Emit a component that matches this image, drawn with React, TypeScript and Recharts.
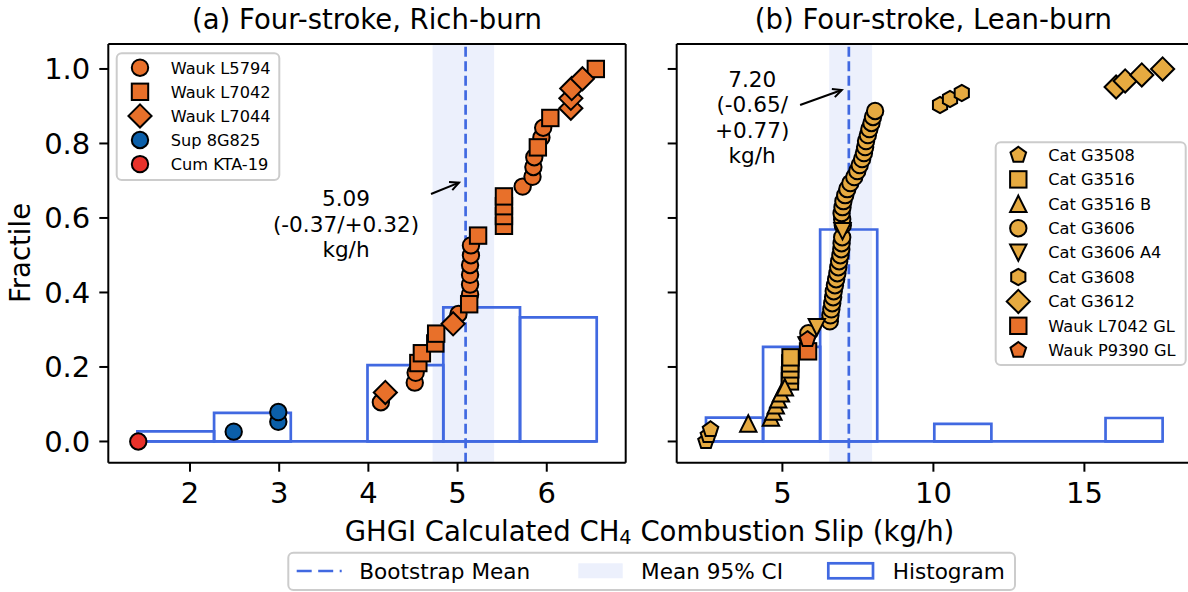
import React from "react";
import { ComposedChart, Scatter, XAxis, YAxis, ReferenceArea, ReferenceLine, ReferenceDot } from "recharts";

// ---- (a) Four-stroke, rich-burn: [slip kg/h, rank] ; 39 engines ----
const richCount = 39;
const waukL5794 = [[4.14, 4], [4.52, 6], [4.53, 7], [5.01, 13], [5.14, 15], [5.14, 16], [5.14, 17], [5.14, 18], [5.15, 19], [5.15, 20], [5.73, 26], [5.84, 27], [5.85, 28], [5.86, 29], [5.94, 31], [5.96, 32]];
const waukL7042 = [[4.56, 8], [4.6, 9], [4.75, 10], [4.76, 11], [5.13, 14], [5.23, 21], [5.52, 22], [5.52, 23], [5.52, 24], [5.52, 25], [5.9, 30], [6.04, 33], [6.55, 38]];
const waukL7044 = [[4.19, 5], [4.95, 12], [6.27, 34], [6.27, 35], [6.28, 36], [6.4, 37]];
const sup8G825 = [[2.49, 1], [2.99, 2], [2.99, 3]];
const cumKTA19 = [[1.42, 0]];

const richBinEdges = [1.41, 2.27, 3.13, 3.99, 4.84, 5.7, 6.56];
const richBinHeights = [0.027, 0.077, 0, 0.205, 0.36, 0.333];
const richMean = 5.09;
const richCi = [4.72, 5.41];

// ---- (b) Four-stroke, lean-burn: [slip kg/h, rank] ; 63 engines ----
const leanCount = 63;
const catG3508 = [[2.47, 0], [2.55, 1], [2.62, 2]];
const catG3516 = [[5.25, 10], [5.25, 11], [5.26, 12], [5.26, 13], [5.27, 14]];
const catG3516B = [[3.87, 3], [4.62, 4], [4.7, 5], [4.78, 6], [4.86, 7], [4.95, 8], [5.08, 9]];
const catG3606 = [
  [5.86, 18], [6.57, 20], [6.59, 21], [6.62, 22], [6.65, 23], [6.68, 24], [6.7, 25], [6.74, 26], [6.78, 27],
  [6.82, 28], [6.85, 29], [6.88, 30], [6.92, 31], [6.95, 32], [6.96, 33], [6.98, 34], [7.0, 36], [6.98, 37],
  [6.96, 38], [6.99, 39], [7.02, 40], [7.08, 41], [7.15, 42], [7.25, 43], [7.38, 44], [7.48, 45], [7.56, 46],
  [7.64, 47], [7.7, 48], [7.74, 49], [7.77, 50], [7.83, 51], [7.88, 52], [7.95, 53], [8.0, 54], [8.07, 55],
];
const catG3606A4 = [[5.8, 16], [6.14, 19], [6.99, 35]];
const catG3608 = [[10.22, 56], [10.55, 57], [10.94, 58]];
const catG3612 = [[16.05, 59], [16.35, 60], [16.9, 61], [17.59, 62]];
const waukL7042GL = [[5.85, 15]];
const waukP9390GL = [[5.83, 17]];

const leanBinEdges = [2.47, 4.36, 6.25, 8.14, 10.03, 11.92, 13.81, 15.7, 17.59];
const leanBinHeights = [0.064, 0.254, 0.569, 0, 0.047, 0, 0, 0.063];
const leanMean = 7.2;
const leanCi = [6.55, 7.97];

const ORANGE = "#E8702A";
const GOLD = "#E6AA40";
const BLUE = "#0B5FA9";
const RED = "#E8322B";
const ROYAL = "#4169E1";
const FONT = "DejaVu Sans";
const MS = 8.2; // half marker size

const toPoints = (arr: number[][], n: number) => arr.map(([x, r]) => ({ x, y: r / (n - 1) }));

const poly = (cx: number, cy: number, r: number, n: number) => {
  const pts: string[] = [];
  for (let i = 0; i < n; i++) {
    const a = -Math.PI / 2 + (i * 2 * Math.PI) / n;
    pts.push(`${cx + r * Math.cos(a)},${cy + r * Math.sin(a)}`);
  }
  return pts.join(" ");
};

const Glyph = ({ cx, cy, kind, fill }: any) => {
  const st = { fill, stroke: "#000", strokeWidth: 2 };
  const s = MS;
  switch (kind) {
    case "square":
      return <rect x={cx - s} y={cy - s} width={2 * s} height={2 * s} {...st} />;
    case "diamond": {
      const d = s * 1.41;
      return <polygon points={`${cx},${cy - d} ${cx + d},${cy} ${cx},${cy + d} ${cx - d},${cy}`} {...st} />;
    }
    case "triangle":
      return <polygon points={`${cx},${cy - s} ${cx + s},${cy + s} ${cx - s},${cy + s}`} {...st} />;
    case "triangleDown":
      return <polygon points={`${cx},${cy + s} ${cx + s},${cy - s} ${cx - s},${cy - s}`} {...st} />;
    case "pentagon":
      return <polygon points={poly(cx, cy, s, 5)} {...st} />;
    case "hexagon":
      return <polygon points={poly(cx, cy, s, 6)} {...st} />;
    default:
      return <circle cx={cx} cy={cy} r={s} {...st} />;
  }
};

const richSeries = [
  { name: "Wauk L5794", data: waukL5794, kind: "circle", fill: ORANGE },
  { name: "Wauk L7042", data: waukL7042, kind: "square", fill: ORANGE },
  { name: "Wauk L7044", data: waukL7044, kind: "diamond", fill: ORANGE },
  { name: "Sup 8G825", data: sup8G825, kind: "circle", fill: BLUE },
  { name: "Cum KTA-19", data: cumKTA19, kind: "circle", fill: RED },
];

const leanSeries = [
  { name: "Cat G3508", data: catG3508, kind: "pentagon", fill: GOLD },
  { name: "Cat G3516", data: catG3516, kind: "square", fill: GOLD },
  { name: "Cat G3516 B", data: catG3516B, kind: "triangle", fill: GOLD },
  { name: "Cat G3606", data: catG3606, kind: "circle", fill: GOLD },
  { name: "Cat G3606 A4", data: catG3606A4, kind: "triangleDown", fill: GOLD },
  { name: "Cat G3608", data: catG3608, kind: "hexagon", fill: GOLD },
  { name: "Cat G3612", data: catG3612, kind: "diamond", fill: GOLD },
  { name: "Wauk L7042 GL", data: waukL7042GL, kind: "square", fill: ORANGE },
  { name: "Wauk P9390 GL", data: waukP9390GL, kind: "pentagon", fill: ORANGE },
];

const Arrow = (p: any) => {
  const { x1, y1, x2, y2 } = p;
  const a = Math.atan2(y2 - y1, x2 - x1);
  const L = 10, W = 0.45;
  const h1 = `${x2 - L * Math.cos(a - W)},${y2 - L * Math.sin(a - W)}`;
  const h2 = `${x2 - L * Math.cos(a + W)},${y2 - L * Math.sin(a + W)}`;
  return (
    <g stroke="#000" strokeWidth={2} fill="none">
      <line x1={x1} y1={y1} x2={x2} y2={y2} />
      <polyline points={`${h1} ${x2},${y2} ${h2}`} />
    </g>
  );
};

const noteShape = (lines: string[]) => (p: any) => (
  <g>
    {lines.map((t, i) => (
      <text key={i} x={p.cx} y={p.cy + i * 25.5} textAnchor="middle" fontSize={21.6} fontFamily={FONT} fill="#000">
        {t}
      </text>
    ))}
  </g>
);

const yDomain: [number, number] = [-0.057, 1.067];
const yTicks = [0, 0.2, 0.4, 0.6, 0.8, 1.0];
const axisLine = { stroke: "#000", strokeWidth: 2 };
const tickStyle = { fill: "#000", fontSize: 29, fontFamily: FONT };

const histogram = (edges: number[], heights: number[], key: string) => [
  <ReferenceLine key={key + "base"} segment={[{ x: edges[0], y: 0 }, { x: edges[edges.length - 1], y: 0 }]} stroke={ROYAL} strokeWidth={2.7} />,
  ...heights.map((h, i) =>
    h > 0 ? (
      <ReferenceArea key={key + i} x1={edges[i]} x2={edges[i + 1]} y1={0} y2={h} fill="none" fillOpacity={0} stroke={ROYAL} strokeWidth={2.7} strokeOpacity={1} />
    ) : null
  ),
];

const Panel = ({ width, margin, yWidth, xDomain, xTicks, series, n, edges, heights, mean, ci, note, noteAt, arrow, yLabels }: any) => (
  <ComposedChart width={width} height={530} margin={margin}>
    <XAxis type="number" dataKey="x" domain={xDomain} ticks={xTicks} allowDataOverflow height={30}
      axisLine={axisLine} tickLine={axisLine} tickSize={9} tickMargin={11} tick={tickStyle} />
    <YAxis type="number" dataKey="y" domain={yDomain} ticks={yTicks} allowDataOverflow width={yWidth}
      axisLine={axisLine} tickLine={axisLine} tickSize={9} tickMargin={9} tick={tickStyle}
      tickFormatter={(v: number) => (yLabels ? v.toFixed(1) : "")} />
    <ReferenceArea x1={ci[0]} x2={ci[1]} y1={yDomain[0]} y2={yDomain[1]} fill={ROYAL} fillOpacity={0.1} stroke="none" />
    {histogram(edges, heights, "h")}
    {series.map((s: any) => (
      <Scatter key={s.name} name={s.name} data={toPoints(s.data, n)} isAnimationActive={false}
        shape={(p: any) => <Glyph cx={p.cx} cy={p.cy} kind={s.kind} fill={s.fill} />} />
    ))}
    <ReferenceLine x={mean} stroke={ROYAL} strokeWidth={2.7} strokeDasharray="10 4.5" />
    <ReferenceLine segment={arrow} shape={Arrow} />
    <ReferenceDot x={noteAt[0]} y={noteAt[1]} r={0} shape={noteShape(note)} />
    <ReferenceLine y={yDomain[1]} stroke="#000" strokeWidth={2} />
    <ReferenceLine x={xDomain[1]} stroke="#000" strokeWidth={2} />
  </ComposedChart>
);

const LegendRows = ({ items, x0, y0, w, h, mx, tx, ry, gap }: any) => (
  <g>
    <rect x={x0} y={y0} width={w} height={h} rx={5} fill="#fff" fillOpacity={0.8} stroke="#CCCCCC" strokeWidth={2} />
    {items.map((s: any, i: number) => (
      <g key={s.name}>
        <Glyph cx={mx} cy={ry + i * gap} kind={s.kind} fill={s.fill} />
        <text x={tx} y={ry + i * gap + 5.8} fontSize={16.2} fontFamily={FONT} fill="#000">{s.name}</text>
      </g>
    ))}
  </g>
);

export default function App() {
  return (
    <div style={{ position: "absolute", left: 0, top: 0, width: 1188, height: 592, overflow: "hidden", background: "#fff" }}>
      <div style={{ position: "absolute", left: 0, top: 0 }}>
        <Panel width={640} margin={{ top: 44, right: 14.3, left: 48.3, bottom: 37.3 }} yWidth={60}
          xDomain={[1.084, 6.885]} xTicks={[2, 3, 4, 5, 6]} series={richSeries} n={richCount}
          edges={richBinEdges} heights={richBinHeights} mean={richMean} ci={richCi}
          note={["5.09", "(-0.37/+0.32)", "kg/h"]} noteAt={[3.749, 0.632]}
          arrow={[{ x: 4.702, y: 0.6644 }, { x: 5.016, y: 0.6948 }]} yLabels />
      </div>
      <div style={{ position: "absolute", left: 640, top: 0 }}>
        <Panel width={560} margin={{ top: 44, right: 9.9, left: 16.7, bottom: 37.3 }} yWidth={20}
          xDomain={[1.5, 18.5]} xTicks={[5, 10, 15]} series={leanSeries} n={leanCount}
          edges={leanBinEdges} heights={leanBinHeights} mean={leanMean} ci={leanCi}
          note={["7.20", "(-0.65/", "+0.77)", "kg/h"]} noteAt={[4.0, 0.9517]}
          arrow={[{ x: 5.586, y: 0.9034 }, { x: 6.967, y: 0.9436 }]} yLabels={false} />
      </div>
      <svg width={1188} height={592} style={{ position: "absolute", left: 0, top: 0, pointerEvents: "none" }}>
        <text x={367} y={29} textAnchor="middle" fontSize={27.5} fontFamily={FONT}>(a) Four-stroke, Rich-burn</text>
        <text x={933.4} y={29} textAnchor="middle" fontSize={27.5} fontFamily={FONT}>(b) Four-stroke, Lean-burn</text>
        <text x={30} y={253} textAnchor="middle" fontSize={27.5} fontFamily={FONT} transform="rotate(-90 30 253)">Fractile</text>
        <text x={649.5} y={540.7} textAnchor="middle" fontSize={27.5} fontFamily={FONT}>
          GHGI Calculated CH<tspan fontSize={19.3} dy={3.5}>4</tspan><tspan dy={-3.5}> Combustion Slip (kg/h)</tspan>
        </text>
        <LegendRows items={richSeries} x0={116.7} y0={53.3} w={162.6} h={126.7} mx={140} tx={170.7} ry={67.7} gap={24.1} />
        <LegendRows items={leanSeries} x0={995.7} y0={142.3} w={190} h={222.7} mx={1018.3} tx={1048.3} ry={155} gap={24.4} />
        <rect x={288.3} y={552.7} width={726.7} height={37.3} rx={5} fill="#fff" stroke="#CCCCCC" strokeWidth={2} />
        <line x1={296.7} y1={571} x2={341.7} y2={571} stroke={ROYAL} strokeWidth={2.7} strokeDasharray="15 6.5" />
        <text x={359.3} y={579.3} fontSize={21.6} fontFamily={FONT}>Bootstrap Mean</text>
        <rect x={578.3} y={563.3} width={44.4} height={15} fill={ROYAL} fillOpacity={0.1} />
        <text x={641} y={579.3} fontSize={21.6} fontFamily={FONT}>Mean 95% CI</text>
        <rect x={828.3} y={563.3} width={44.7} height={15} fill="none" stroke={ROYAL} strokeWidth={2.7} />
        <text x={892.7} y={579.3} fontSize={21.6} fontFamily={FONT}>Histogram</text>
      </svg>
    </div>
  );
}
